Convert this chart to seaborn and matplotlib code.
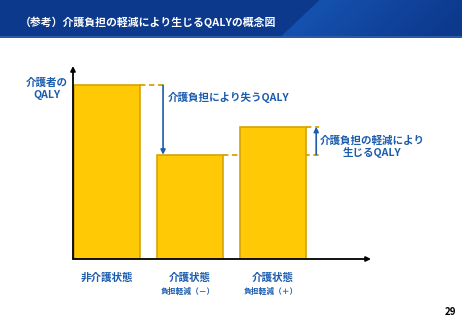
import numpy as np
import pandas as pd
import matplotlib
matplotlib.use("Agg")
import matplotlib.pyplot as plt
import seaborn as sns

# ---- data ----
categories = ["非介護状態", "介護状態（－）", "介護状態（＋）"]
values = [1.00, 0.60, 0.76]
main_labels = ["非介護状態", "介護状態", "介護状態"]
sub_labels = ["", "負担軽減（－）", "負担軽減（＋）"]
title = "（参考）介護負担の軽減により生じるQALYの概念図"
ylabel = "介護者の\nQALY"
loss_label = "介護負担により失うQALY"
gain_label = "介護負担の軽減により\n生じるQALY"
page_no = "29"

sns.set_theme(style="white")
plt.rcParams["font.family"] = ["Noto Sans CJK JP", "DejaVu Sans"]

W, H = 462, 320
fig = plt.figure(figsize=(W / 100, H / 100), dpi=100)
fig.patch.set_facecolor("white")

BLUE = "#1b5cad"
BAR = "#FFC905"
EDGE = "#D6A400"

# ---- header band ----
hax = fig.add_axes([0, 1 - 38 / H, 1, 38 / H])
hax.set_axis_off()
nx, ny = 462, 38
xx, yy = np.meshgrid(np.arange(nx), np.arange(ny))
dark = np.array([0x0c, 0x39, 0x8c]) / 255
light = np.array([0x15, 0x52, 0xb0]) / 255
edge_x = 318 - (yy / ny) * 40
t = np.clip((xx - edge_x) / 1.0, 0, 1)
fade = np.clip(1 - (xx - edge_x) / 160, 0, 1) * t
img = dark[None, None, :] * (1 - fade[..., None]) + light[None, None, :] * fade[..., None]
img[-2:, :, :] = np.array([0x2a, 0x5a, 0xa8]) / 255
hax.imshow(img, aspect="auto", extent=[0, 1, 0, 1], interpolation="bilinear")
hax.set_xlim(0, 1)
hax.set_ylim(0, 1)
hax.text(20 / W, 0.42, title, color="white", fontsize=7.8, fontweight="bold",
         va="center", ha="left")

# ---- main axes ----
left, right, top, bottom = 73, 371, 66, 259
ax = fig.add_axes([left / W, 1 - bottom / H, (right - left) / W, (bottom - top) / H])
df = pd.DataFrame({"cat": categories, "val": values})
sns.barplot(data=df, x="cat", y="val", color=BAR, saturation=1, width=0.8,
            edgecolor=EDGE, linewidth=1.2, ax=ax, zorder=3)
ax.set_xlim(-0.41, 3.18)
ax.set_ylim(0, 1.11)
for s in ax.spines.values():
    s.set_visible(False)
ax.set_xticks([])
ax.set_yticks([])
ax.set_xlabel("")
ax.set_ylabel("")
ax.set_facecolor("none")

# axis arrows
ax.annotate("", xy=(0, 1), xytext=(0, 0), xycoords="axes fraction",
            arrowprops=dict(arrowstyle="-|>", color="black", lw=1.3,
                            mutation_scale=7, shrinkA=0, shrinkB=0), zorder=5)
ax.annotate("", xy=(1, 0), xytext=(0, 0), xycoords="axes fraction",
            arrowprops=dict(arrowstyle="-|>", color="black", lw=1.3,
                            mutation_scale=7, shrinkA=0, shrinkB=0), zorder=5)

bars = ax.patches
r0 = bars[0].get_x() + bars[0].get_width()
r1 = bars[1].get_x() + bars[1].get_width()
r2 = bars[2].get_x() + bars[2].get_width()
ax1x, ax2x = 0.675, 2.52
dash = dict(color=EDGE, lw=1.3, linestyle=(0, (3, 2)))
ax.plot([r0, ax1x], [values[0], values[0]], zorder=2, **dash)
ax.plot([r1, ax2x + 0.03], [values[1], values[1]], zorder=2, **dash)
ax.plot([r2, ax2x + 0.03], [values[2], values[2]], zorder=2, **dash)

arrow = dict(arrowstyle="-|>", color=BLUE, lw=1.2, mutation_scale=7,
             shrinkA=0, shrinkB=0)
ax.annotate("", xy=(ax1x, values[1]), xytext=(ax1x, values[0]), arrowprops=arrow, zorder=6)
ax.annotate("", xy=(ax2x, values[2]), xytext=(ax2x, values[1]), arrowprops=arrow, zorder=6)

ax.text(0.735, 0.93, loss_label, color=BLUE, fontsize=7.6, fontweight="bold",
        ha="left", va="center")
ax.text(3.19, 0.645, gain_label, color=BLUE, fontsize=7.6, fontweight="bold",
        ha="center", va="center", multialignment="center", linespacing=1.15,
        clip_on=False)

# y label
ax.text(-0.087, 0.883, ylabel, transform=ax.transAxes, color=BLUE, fontsize=7.6,
        fontweight="bold", ha="center", va="center", multialignment="center",
        linespacing=1.25)

# category labels
xt = ax.get_xaxis_transform()
for i, (m, s) in enumerate(zip(main_labels, sub_labels)):
    ax.text(i, -0.098, m, transform=xt, color=BLUE, fontsize=7.6, fontweight="bold",
            ha="center", va="center")
    if s:
        ax.text(i - 0.03, -0.166, s, transform=xt, color=BLUE, fontsize=5.6,
                fontweight="bold", ha="center", va="center")

fig.text(450 / W, 1 - 312 / H, page_no, color="black", fontsize=7,
         fontweight="bold", ha="center", va="center")

fig.savefig("out.png", dpi=100)
